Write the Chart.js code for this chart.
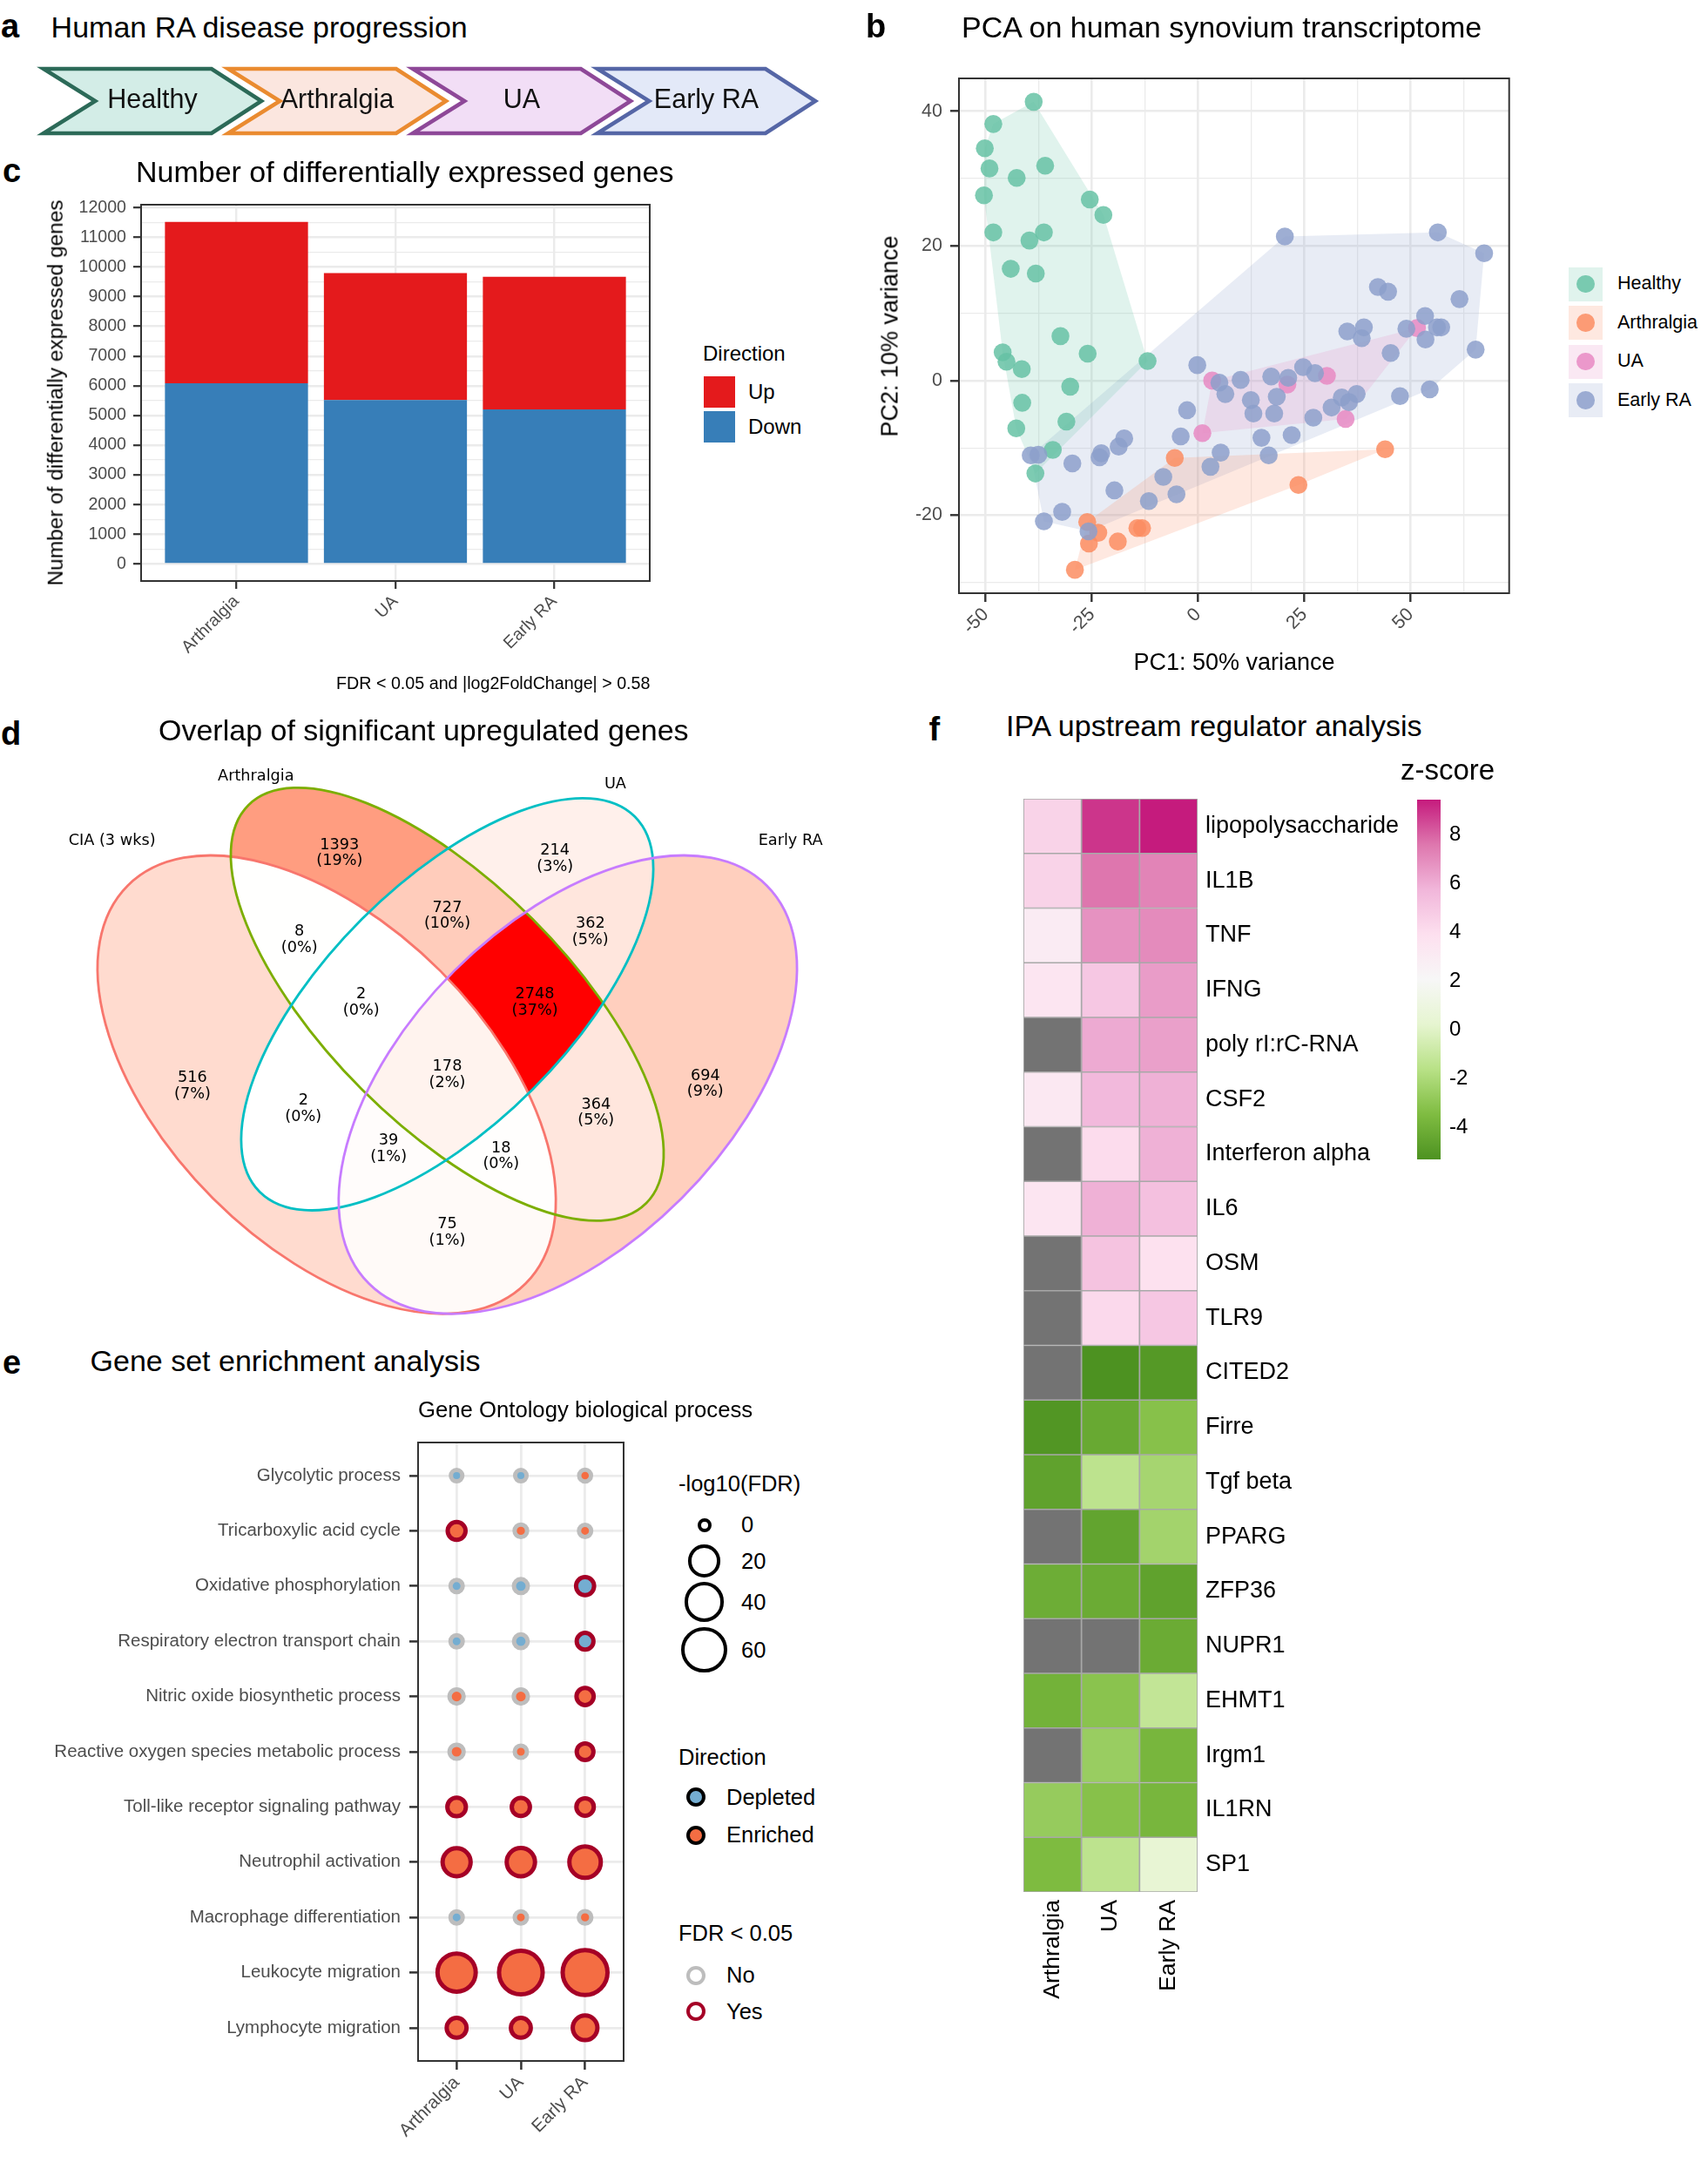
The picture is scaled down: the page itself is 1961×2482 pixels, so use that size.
<!DOCTYPE html>
<html>
<head>
<meta charset="utf-8">
<script src="https://cdn.jsdelivr.net/npm/chart.js@4.4.1/dist/chart.umd.min.js"></script>
<style>
  html, body { margin: 0; padding: 0; background: #fff; }
  #page { position: relative; width: 1961px; height: 2482px; overflow: hidden; background: #fff; }
</style>
</head>
<body>
<div id="page"></div>
<script>
// ---------------- data ----------------

// a: disease stages
const stages = ['Healthy', 'Arthralgia', 'UA', 'Early RA'];

// b: PCA scores per group
const pcaGroups = ['Healthy', 'Arthralgia', 'UA', 'Early RA'];
const healthyPC1 = [-38.7, -48.2, -50.2, -49.1, -42.7, -36.0, -50.4, -25.5, -22.3, -48.2, -39.7, -36.3, -44.1, -38.2, -32.4, -26.0, -46.0, -45.1, -41.5, -11.9, -30.1, -41.4, -31.0, -42.8, -34.2, -38.3];
const healthyPC2 = [41.4, 38.1, 34.5, 31.5, 30.1, 31.9, 27.5, 26.9, 24.6, 22.0, 20.8, 22.0, 16.6, 15.9, 6.6, 4.0, 4.2, 2.8, 1.7, 2.9, -0.9, -3.3, -6.1, -7.1, -10.3, -13.8];
const arthralgiaPC1 = [-5.5, 44.0, 23.6, -26.1, -23.5, -25.7, -18.9, -14.3, -13.2, -29.0];
const arthralgiaPC2 = [-11.5, -10.2, -15.5, -21.0, -22.6, -24.2, -23.9, -21.9, -21.9, -28.1];
const uaPC1 = [3.3, 21.0, 30.3, 51.5, 1.0, 34.7];
const uaPC2 = [0.0, -0.6, 0.7, 7.8, -7.8, -5.7];
const earlyRaPC1 = [-0.2, 10.0, 5.0, 6.4, -2.6, -4.1, 5.3, 2.9, -8.2, -5.1, -11.6, -19.7, -18.7, -17.4, -22.8, -23.2, -29.6, -39.4, -37.6, -32.0, -36.3, -25.8, 12.4, 13.0, 17.2, 21.2, 18.5, 17.9, 14.9, 16.6, 22.0, 24.7, 27.5, 27.1, 31.4, 33.8, 35.5, 37.3, 35.1, 39.0, 38.5, 42.3, 44.7, 45.3, 47.5, 49.0, 53.4, 53.5, 54.5, 56.2, 57.2, 56.4, 61.5, 67.3, 65.3, 20.4];
const earlyRaPC2 = [2.3, 0.1, -0.3, -2.0, -4.4, -8.3, -10.7, -12.8, -14.3, -16.9, -17.9, -16.3, -9.8, -8.6, -10.8, -11.4, -12.3, -11.1, -11.0, -19.5, -20.9, -22.4, -2.9, -4.9, 0.6, 0.4, -2.4, -4.9, -8.5, -11.1, -8.1, 2.0, 1.1, -5.5, -4.0, -2.5, -3.2, -2.0, 7.3, 7.9, 6.3, 13.9, 13.2, 4.1, -2.3, 7.7, 9.6, 6.1, -1.3, 7.9, 7.9, 22.0, 12.1, 18.9, 4.6, 21.4];
const pcaXTicks = [-50, -37.5, -25, -12.5, 0, 12.5, 25, 37.5, 50, 62.5];
const pcaXMajor = [-50, -25, 0, 25, 50];
const pcaYTicks = [-30, -20, -10, 0, 10, 20, 30, 40];
const pcaYMajor = [-20, 0, 20, 40];

// c: differentially expressed genes
const degGroups = ['Arthralgia', 'UA', 'Early RA'];
const degDown = [6080, 5520, 5200];
const degUp = [5440, 4270, 4470];
const degYTicks = [0, 500, 1000, 1500, 2000, 2500, 3000, 3500, 4000, 4500, 5000, 5500, 6000, 6500, 7000, 7500, 8000, 8500, 9000, 9500, 10000, 10500, 11000, 11500, 12000];

// d: Venn of upregulated genes
const vennSets = ['CIA (3 wks)', 'Arthralgia', 'UA', 'Early RA'];
const vennRegions = ['A', 'B', 'C', 'D', 'AB', 'AC', 'AD', 'BC', 'BD', 'CD', 'ABC', 'ABD', 'ACD', 'BCD', 'ABCD'];
const vennCounts = [516, 1393, 214, 694, 8, 2, 75, 727, 364, 362, 2, 18, 39, 2748, 178];

// e: GO enrichment, -log10(FDR)
const goTerms = ['Glycolytic process', 'Tricarboxylic acid cycle', 'Oxidative phosphorylation', 'Respiratory electron transport chain', 'Nitric oxide biosynthetic process', 'Reactive oxygen species metabolic process', 'Toll-like receptor signaling pathway', 'Neutrophil activation', 'Macrophage differentiation', 'Leukocyte migration', 'Lymphocyte migration'];
const goGroups = ['Arthralgia', 'UA', 'Early RA'];
const goArthralgia = [0.2, 4.0, 0.4, 0.4, 1.2, 1.2, 4.7, 20.0, 0.4, 48.0, 6.2];
const goUA = [0.2, 0.5, 1.1, 1.0, 1.2, 0.4, 4.3, 20.5, 0.4, 68.0, 6.2];
const goEarlyRA = [0.3, 0.4, 4.2, 3.0, 3.4, 3.0, 3.6, 28.0, 0.5, 73.0, 13.3];
const goDirArthralgia = ['Depleted', 'Enriched', 'Depleted', 'Depleted', 'Enriched', 'Enriched', 'Enriched', 'Enriched', 'Depleted', 'Enriched', 'Enriched'];
const goDirUA = ['Depleted', 'Enriched', 'Depleted', 'Depleted', 'Enriched', 'Enriched', 'Enriched', 'Enriched', 'Enriched', 'Enriched', 'Enriched'];
const goDirEarlyRA = ['Enriched', 'Enriched', 'Depleted', 'Depleted', 'Enriched', 'Enriched', 'Enriched', 'Enriched', 'Enriched', 'Enriched', 'Enriched'];
const goSizeBreaks = [0, 20, 40, 60];

// f: IPA upstream regulators, z-scores (null = not available)
const ipaRegulators = ['lipopolysaccharide', 'IL1B', 'TNF', 'IFNG', 'poly rI:rC-RNA', 'CSF2', 'Interferon alpha', 'IL6', 'OSM', 'TLR9', 'CITED2', 'Firre', 'Tgf beta', 'PPARG', 'ZFP36', 'NUPR1', 'EHMT1', 'Irgm1', 'IL1RN', 'SP1'];
const ipaGroups = ['Arthralgia', 'UA', 'Early RA'];
const zArthralgia = [4.5, 4.5, 3.0, 3.5, null, 3.3, null, 3.5, null, null, null, -5.1, -4.6, null, -4.1, null, -3.9, null, -2.7, -3.5];
const zUA = [8.9, 7.6, 6.8, 5.0, 6.1, 5.6, 4.1, 5.9, 5.2, 4.2, -5.29, -4.3, -1.4, -4.5, -4.2, null, -3.1, -2.6, -3.2, -1.4];
const zEarlyRA = [9.43, 7.2, 7.0, 6.5, 6.4, 5.9, 5.9, 5.3, 3.8, 5.0, -5.0, -3.2, -2.2, -2.3, -4.6, -4.2, -1.2, -3.7, -3.7, 0.4];
const zTicks = [-4, -2, 0, 2, 4, 6, 8];

// ---------------- helpers ----------------
const sans = "'Liberation Sans', Arial, Helvetica, sans-serif";
const vennFont = "'DejaVu Sans', sans-serif";
Chart.defaults.font.family = sans;
Chart.defaults.color = '#4d4d4d';

const page = document.getElementById('page');

function canvasAt(left, top, width, height) {
    const c = document.createElement('canvas');
    c.width = Math.round(width);
    c.height = Math.round(height);
    Object.assign(c.style, { position: 'absolute', left: left + 'px', top: top + 'px' });
    page.appendChild(c);
    return c;
}

// canvas placed so the plot area lands on [l, t, r, b]
function frame(area, axes, pad) {
    const left = area[0] - pad.left - (axes.left || 0);
    const top = area[1] - pad.top - (axes.top || 0);
    const right = area[2] + pad.right + (axes.right || 0);
    const bottom = area[3] + pad.bottom + (axes.bottom || 0);
    return canvasAt(left, top, right - left, bottom - top);
}

function baseOptions(pad) {
    return {
        responsive: false, animation: false, devicePixelRatio: 1, events: [],
        layout: { padding: pad },
        plugins: { legend: { display: false }, tooltip: { enabled: false } }
    };
}

const labels = [];
function text(str, x, y, size, o = {}) {
    const d = document.createElement('div');
    d.textContent = str;
    Object.assign(d.style, {
        position: 'absolute', whiteSpace: 'nowrap', lineHeight: '1',
        fontFamily: o.family || sans, fontSize: size + 'px',
        fontWeight: o.bold ? 'bold' : 'normal', color: o.color || '#000'
    });
    if (o.rotate) {
        d.style.left = x + 'px';
        d.style.top = y + 'px';
        d.style.transform = 'translate(-50%, -50%) rotate(-90deg)';
    } else {
        d.style.left = x + 'px';
        d.style.top = (y - 0.8465 * size) + 'px';
        if (o.align === 'center') d.style.transform = 'translateX(-50%)';
        if (o.align === 'right') d.style.transform = 'translateX(-100%)';
    }
    labels.push(d);
}

function swatch(left, top, w, h, css) {
    const d = document.createElement('div');
    Object.assign(d.style, { position: 'absolute', left: left + 'px', top: top + 'px', width: w + 'px', height: h + 'px', boxSizing: 'border-box' }, css);
    labels.push(d);
}

const panelBox = {
    id: 'panelBox',
    afterDatasetsDraw(chart, args, opts) {
        if (!opts || !opts.width) return;
        const { ctx, chartArea: a } = chart;
        ctx.save();
        ctx.strokeStyle = opts.color;
        ctx.lineWidth = opts.width;
        ctx.strokeRect(a.left, a.top, a.right - a.left, a.bottom - a.top);
        ctx.restore();
    }
};

function fixedTicks(list) {
    return (scale) => { scale.ticks = list.map(v => ({ value: v })); };
}

// ---------------- panel a: stage chevrons ----------------
const chevronFill = ['#d3ede7', '#fbe6df', '#f2def6', '#e3e9f8'];
const chevronLine = ['#2c6a58', '#ea8b30', '#8e4898', '#5566a6'];

const chevronPlugin = {
    id: 'chevrons',
    afterDatasetsDraw(chart) {
        const { ctx } = chart;
        const xs = chart.scales.x, ys = chart.scales.y;
        const step = xs.getPixelForValue(1) - xs.getPixelForValue(0);
        const top = ys.getPixelForValue(1), bot = ys.getPixelForValue(0), mid = (top + bot) / 2;
        ctx.save();
        ctx.lineJoin = 'miter';
        ctx.lineWidth = 4.5;
        stages.forEach((name, i) => {
            const c = xs.getPixelForValue(i);
            const left = c - 0.59 * step, tip = c + 0.59 * step;
            const shoulder = tip - 0.27 * step, notch = left + 0.28 * step;
            ctx.beginPath();
            ctx.moveTo(left, top);
            ctx.lineTo(shoulder, top);
            ctx.lineTo(tip, mid);
            ctx.lineTo(shoulder, bot);
            ctx.lineTo(left, bot);
            ctx.lineTo(notch, mid);
            ctx.closePath();
            ctx.fillStyle = chevronFill[i];
            ctx.fill();
            ctx.strokeStyle = chevronLine[i];
            ctx.stroke();
            ctx.fillStyle = '#111';
            ctx.font = '30.5px ' + sans;
            ctx.textAlign = 'center';
            ctx.textBaseline = 'alphabetic';
            ctx.fillText(name, c, mid + 8);
        });
        ctx.restore();
    }
};

(function () {
    const pad = { left: 29, right: 29, top: 10, bottom: 10 };
    const cv = frame([69, 79, 917, 153], {}, pad);
    new Chart(cv, {
        type: 'bar',
        data: { labels: stages, datasets: [{ data: stages.map(() => null) }] },
        options: Object.assign(baseOptions(pad), {
            scales: { x: { display: false }, y: { display: false, min: 0, max: 1 } }
        }),
        plugins: [chevronPlugin]
    });
})();

// ---------------- panel b: PCA ----------------
const pcaRGB = ['102,194,165', '252,141,98', '231,138,195', '141,160,203'];

function convexHull(points) {
    const p = points.slice().sort((a, b) => a.x - b.x || a.y - b.y);
    const cross = (o, a, b) => (a.x - o.x) * (b.y - o.y) - (a.y - o.y) * (b.x - o.x);
    const lower = [], upper = [];
    for (const q of p) {
        while (lower.length >= 2 && cross(lower[lower.length - 2], lower[lower.length - 1], q) <= 0) lower.pop();
        lower.push(q);
    }
    for (const q of p.slice().reverse()) {
        while (upper.length >= 2 && cross(upper[upper.length - 2], upper[upper.length - 1], q) <= 0) upper.pop();
        upper.push(q);
    }
    lower.pop();
    upper.pop();
    return lower.concat(upper);
}

(function () {
    const pc1 = [healthyPC1, arthralgiaPC1, uaPC1, earlyRaPC1];
    const pc2 = [healthyPC2, arthralgiaPC2, uaPC2, earlyRaPC2];
    const pts = pc1.map((xs, g) => xs.map((x, i) => ({ x: x, y: pc2[g][i] })));
    const allX = [].concat(...pc1), allY = [].concat(...pc2);
    const xr = [Math.min(...allX), Math.max(...allX)], yr = [Math.min(...allY), Math.max(...allY)];
    const xe = (xr[1] - xr[0]) * 0.05, ye = (yr[1] - yr[0]) * 0.05;

    const hullSets = pts.map((p, g) => {
        const h = convexHull(p);
        return {
            type: 'line', data: h.concat([h[0]]), fill: 'shape',
            backgroundColor: `rgba(${pcaRGB[g]},0.2)`, borderColor: 'rgba(0,0,0,0)', borderWidth: 0,
            pointRadius: 0, tension: 0, order: 20 + g
        };
    });
    const pointSets = pts.map((p, g) => ({
        type: 'scatter', data: p, backgroundColor: `rgba(${pcaRGB[g]},0.85)`,
        borderWidth: 0, pointRadius: 10.3, order: 10 - g
    }));

    const pad = { left: 10, right: 10, top: 40, bottom: 8 };
    const cv = frame([1101, 90, 1733, 681], { left: 80, bottom: 65 }, pad);
    const isX = c => c.tick && pcaXMajor.includes(c.tick.value);
    const isY = c => c.tick && pcaYMajor.includes(c.tick.value);
    new Chart(cv, {
        type: 'scatter',
        data: { datasets: hullSets.concat(pointSets) },
        options: Object.assign(baseOptions(pad), {
            scales: {
                x: {
                    type: 'linear', min: xr[0] - xe, max: xr[1] + xe,
                    afterBuildTicks: fixedTicks(pcaXTicks),
                    afterFit: s => { s.height = 65; },
                    ticks: { autoSkip: false, minRotation: 45, maxRotation: 45, padding: 2, font: { size: 21.5 }, color: '#4d4d4d',
                        callback: v => pcaXMajor.includes(v) ? String(v) : '' },
                    grid: { color: '#ebebeb', lineWidth: c => isX(c) ? 2.6 : 1.3, tickColor: c => isX(c) ? '#333' : 'rgba(0,0,0,0)', tickLength: 10, tickWidth: 2.4 },
                    border: { display: false }
                },
                y: {
                    type: 'linear', min: yr[0] - ye, max: yr[1] + ye,
                    afterBuildTicks: fixedTicks(pcaYTicks),
                    afterFit: s => { s.width = 80; },
                    ticks: { autoSkip: false, padding: 9, font: { size: 21.5 }, color: '#4d4d4d',
                        callback: v => pcaYMajor.includes(v) ? String(v) : '' },
                    grid: { color: '#ebebeb', lineWidth: c => isY(c) ? 2.6 : 1.3, tickColor: c => isY(c) ? '#333' : 'rgba(0,0,0,0)', tickLength: 10, tickWidth: 2.4 },
                    border: { display: false }
                }
            },
            plugins: { legend: { display: false }, tooltip: { enabled: false }, panelBox: { color: '#333', width: 2 } }
        }),
        plugins: [panelBox]
    });

    pcaGroups.forEach((g, i) => {
        const top = 306.5 + i * 44.5;
        swatch(1801, top, 39, 39, { background: `rgba(${pcaRGB[i]},0.2)` });
        swatch(1801 + 19.5 - 10.3, top + 19.5 - 10.3, 20.6, 20.6, { borderRadius: '50%', background: `rgba(${pcaRGB[i]},0.85)` });
        text(g, 1857, top + 19.5 + 0.358 * 21.5, 21.5);
    });
    text('PC1: 50% variance', 1417, 769.5, 27, { align: 'center' });
    text('PC2: 10% variance', 1022, 386, 27, { rotate: true });
})();

// ---------------- panel c: stacked bars ----------------
(function () {
    const totals = degDown.map((d, i) => d + degUp[i]);
    const top = Math.max(...totals);
    const pad = { left: 10, right: 10, top: 40, bottom: 5 };
    const cv = frame([162, 235, 746, 667], { left: 80, bottom: 95 }, pad);
    const major = c => c.tick && c.tick.value % 1000 === 0;
    new Chart(cv, {
        type: 'bar',
        data: {
            datasets: [
                { label: 'Down', data: degGroups.map((g, i) => ({ x: i + 1, y: degDown[i] })), backgroundColor: '#377eb8' },
                { label: 'Up', data: degGroups.map((g, i) => ({ x: i + 1, y: degUp[i] })), backgroundColor: '#e41a1c' }
            ]
        },
        options: Object.assign(baseOptions(pad), {
            barPercentage: 0.9, categoryPercentage: 1,
            scales: {
                x: {
                    type: 'linear', min: 0.4, max: 3.6, stacked: true, offset: false,
                    afterBuildTicks: fixedTicks([1, 2, 3]),
                    afterFit: s => { s.height = 95; },
                    ticks: { autoSkip: false, minRotation: 45, maxRotation: 45, padding: 3, font: { size: 19.6 }, color: '#4d4d4d',
                        callback: v => degGroups[v - 1] },
                    grid: { offset: false, color: '#ebebeb', lineWidth: 2.4, tickColor: '#333', tickLength: 9, tickWidth: 2.2 },
                    border: { display: false }
                },
                y: {
                    type: 'linear', min: -0.05 * top, max: top * 1.05, stacked: true,
                    afterBuildTicks: fixedTicks(degYTicks),
                    afterFit: s => { s.width = 80; },
                    ticks: { autoSkip: false, padding: 8, font: { size: 19.6 }, color: '#4d4d4d',
                        callback: v => v % 1000 === 0 ? String(v) : '' },
                    grid: { color: '#ebebeb', lineWidth: c => major(c) ? 2.4 : 1.2, tickColor: c => major(c) ? '#333' : 'rgba(0,0,0,0)', tickLength: 9, tickWidth: 2.2 },
                    border: { display: false }
                }
            },
            plugins: { legend: { display: false }, tooltip: { enabled: false }, panelBox: { color: '#333', width: 2 } }
        }),
        plugins: [panelBox]
    });

    text('Number of differentially expressed genes', 64, 451, 24.4, { rotate: true });
    text('Direction', 807, 414.5, 24);
    const keys = [['Up', '#e41a1c'], ['Down', '#377eb8']];
    keys.forEach(([name, col], i) => {
        const t = 432 + i * 40;
        swatch(808, t, 36, 36, { background: col });
        text(name, 859, t + 18 + 0.358 * 24, 24);
    });
    text('FDR < 0.05 and |log2FoldChange| > 0.58', 746.5, 792, 19.7, { align: 'right' });
})();

// ---------------- panel d: Venn ----------------
const vennCx = [0.35, 0.5, 0.5, 0.65];
const vennCy = [0.47, 0.57, 0.57, 0.47];
const vennA = [0.35, 0.35, 0.33, 0.35];
const vennB = [0.2, 0.15, 0.15, 0.2];
const vennRot = [135, 135, 45, 45];
const vennLine = ['#f8766d', '#7cae00', '#00bfc4', '#c77cff'];
const vennLabelU = [0.183, 0.366, 0.634, 0.821, 0.316, 0.321, 0.500, 0.500, 0.685, 0.678, 0.393, 0.567, 0.427, 0.609, 0.500];
const vennLabelV = [0.468, 0.758, 0.751, 0.471, 0.650, 0.440, 0.286, 0.680, 0.435, 0.660, 0.572, 0.381, 0.390, 0.572, 0.482];
const vennSetU = [0.083, 0.262, 0.709, 0.927];
const vennSetV = [0.768, 0.848, 0.839, 0.768];

function srgbToLin(c) { c /= 255; return c <= 0.04045 ? c / 12.92 : Math.pow((c + 0.055) / 1.055, 2.4); }
function linToSrgb(c) { c = c <= 0.0031308 ? 12.92 * c : 1.055 * Math.pow(c, 1 / 2.4) - 0.055; return Math.round(Math.max(0, Math.min(1, c)) * 255); }
function rgbToLab(rgb) {
    const [r, g, b] = rgb.map(srgbToLin);
    const x = (0.4124 * r + 0.3576 * g + 0.1805 * b) / 0.95047;
    const y = 0.2126 * r + 0.7152 * g + 0.0722 * b;
    const z = (0.0193 * r + 0.1192 * g + 0.9505 * b) / 1.08883;
    const f = t => t > 0.008856 ? Math.cbrt(t) : 7.787 * t + 16 / 116;
    return [116 * f(y) - 16, 500 * (f(x) - f(y)), 200 * (f(y) - f(z))];
}
function labToRgb([L, a, b]) {
    let y = (L + 16) / 116, x = a / 500 + y, z = y - b / 200;
    const f = t => t * t * t > 0.008856 ? t * t * t : (t - 16 / 116) / 7.787;
    x = 0.95047 * f(x); y = f(y); z = 1.08883 * f(z);
    return [
        linToSrgb(x * 3.2406 - y * 1.5372 - z * 0.4986),
        linToSrgb(-x * 0.9689 + y * 1.8758 + z * 0.0415),
        linToSrgb(x * 0.0557 - y * 0.2040 + z * 1.0570)
    ];
}
const labLow = rgbToLab([255, 255, 255]), labHigh = rgbToLab([255, 0, 0]);
function vennFill(count) {
    const lo = Math.min(...vennCounts), hi = Math.max(...vennCounts);
    const t = (count - lo) / (hi - lo);
    const c = labToRgb(labLow.map((v, i) => v + (labHigh[i] - v) * t));
    return `rgb(${c[0]},${c[1]},${c[2]})`;
}

const vennPlugin = {
    id: 'venn',
    afterDatasetsDraw(chart) {
        const { ctx } = chart;
        const xs = chart.scales.x, ys = chart.scales.y;
        const k = xs.getPixelForValue(1) - xs.getPixelForValue(0);
        const paths = vennCx.map((cx, i) => {
            const p = new Path2D();
            p.ellipse(xs.getPixelForValue(cx), ys.getPixelForValue(vennCy[i]), vennA[i] * k, vennB[i] * k, -vennRot[i] * Math.PI / 180, 0, 2 * Math.PI);
            return p;
        });
        const W = chart.width, H = chart.height;
        vennRegions.forEach((code, r) => {
            ctx.save();
            paths.forEach((p, i) => {
                if (code.includes('ABCD'[i])) {
                    ctx.clip(p);
                } else {
                    const q = new Path2D();
                    q.rect(0, 0, W, H);
                    q.addPath(p);
                    ctx.clip(q, 'evenodd');
                }
            });
            ctx.fillStyle = vennFill(vennCounts[r]);
            ctx.fillRect(0, 0, W, H);
            ctx.restore();
        });
        ctx.save();
        ctx.lineWidth = 2.8;
        paths.forEach((p, i) => { ctx.strokeStyle = vennLine[i]; ctx.stroke(p); });
        const total = vennCounts.reduce((s, v) => s + v, 0);
        ctx.fillStyle = '#000';
        ctx.font = '17.7px ' + vennFont;
        ctx.textAlign = 'center';
        ctx.textBaseline = 'middle';
        vennCounts.forEach((n, r) => {
            const x = xs.getPixelForValue(vennLabelU[r]), y = ys.getPixelForValue(vennLabelV[r]);
            ctx.fillText(String(n), x, y - 9.2);
            ctx.fillText('(' + Math.round(n / total * 100) + '%)', x, y + 9.2);
        });
        ctx.textBaseline = 'alphabetic';
        vennSets.forEach((s, i) => {
            ctx.fillText(s, xs.getPixelForValue(vennSetU[i]), ys.getPixelForValue(vennSetV[i]));
        });
        ctx.restore();
    }
};

(function () {
    const pad = { left: 20, right: 20, top: 10, bottom: 10 };
    const cv = frame([52, 793, 975, 1522], {}, pad);
    new Chart(cv, {
        type: 'scatter',
        data: { datasets: [{ data: [] }] },
        options: Object.assign(baseOptions(pad), {
            scales: {
                x: { type: 'linear', display: false, min: 0, max: 1 },
                y: { type: 'linear', display: false, min: 0.17, max: 0.96 }
            }
        }),
        plugins: [vennPlugin]
    });
})();

// ---------------- panel e: GO dot plot ----------------
const sigCut = -Math.log10(0.05);
const dotOuter = v => 16 + 4.74 * Math.sqrt(v);
const dotBorder = 5;

(function () {
    const vals = [goArthralgia, goUA, goEarlyRA];
    const dirs = [goDirArthralgia, goDirUA, goDirEarlyRA];
    const datasets = goGroups.map((g, k) => ({
        data: goTerms.map((t, i) => ({ x: k + 1, y: i + 1 })),
        pointRadius: vals[k].map(v => (dotOuter(v) - dotBorder) / 2),
        pointBackgroundColor: dirs[k].map(d => d === 'Enriched' ? '#f46d43' : '#74add1'),
        pointBorderColor: vals[k].map(v => v > sigCut ? '#a50026' : '#bdbdbd'),
        pointBorderWidth: dotBorder
    }));
    const pad = { left: 10, right: 40, top: 40, bottom: 5 };
    const cv = frame([480, 1656, 716, 2366], { left: 430, bottom: 105 }, pad);
    const grid = { color: '#ebebeb', lineWidth: 2.8, tickColor: '#333', tickLength: 10, tickWidth: 2.5 };
    new Chart(cv, {
        type: 'scatter',
        data: { datasets },
        options: Object.assign(baseOptions(pad), {
            scales: {
                x: {
                    type: 'linear', min: 0.4, max: 3.6,
                    afterBuildTicks: fixedTicks([1, 2, 3]),
                    afterFit: s => { s.height = 105; },
                    ticks: { autoSkip: false, minRotation: 45, maxRotation: 45, padding: 3, font: { size: 20.5 }, color: '#4d4d4d',
                        callback: v => goGroups[v - 1] },
                    grid, border: { display: false }
                },
                y: {
                    type: 'linear', min: 0.4, max: 11.6, reverse: true,
                    afterBuildTicks: fixedTicks(goTerms.map((t, i) => i + 1)),
                    afterFit: s => { s.width = 430; },
                    ticks: { autoSkip: false, padding: 10, font: { size: 20.5 }, color: '#4d4d4d',
                        callback: v => goTerms[v - 1] },
                    grid, border: { display: false }
                }
            },
            plugins: { legend: { display: false }, tooltip: { enabled: false }, panelBox: { color: '#333', width: 2 } }
        }),
        plugins: [panelBox]
    });

    text('Gene Ontology biological process', 480, 1628, 25.7);
    // size legend
    text('-log10(FDR)', 779, 1713, 25.5);
    const sizeY = [1750.7, 1792, 1839, 1894];
    goSizeBreaks.forEach((v, i) => {
        const d = dotOuter(v);
        swatch(808.5 - d / 2, sizeY[i] - d / 2, d, d, { borderRadius: '50%', border: '4.5px solid #000', background: '#fff' });
        text(String(v), 851, sizeY[i] + 0.358 * 25.5, 25.5);
    });
    // direction legend
    text('Direction', 779, 2026.7, 25.5);
    [['Depleted', '#74add1'], ['Enriched', '#f46d43']].forEach(([name, col], i) => {
        const cy = 2063.3 + i * 43.4;
        swatch(799 - 11, cy - 11, 22, 22, { borderRadius: '50%', border: '4.5px solid #000', background: col });
        text(name, 834, cy + 0.358 * 25.5, 25.5);
    });
    // significance legend
    text('FDR < 0.05', 779, 2229, 25.5);
    [['No', '#bdbdbd'], ['Yes', '#a50026']].forEach(([name, col], i) => {
        const cy = 2267.7 + i * 41.6;
        swatch(799 - 11, cy - 11, 22, 22, { borderRadius: '50%', border: '4.5px solid ' + col, background: '#fff' });
        text(name, 834, cy + 0.358 * 25.5, 25.5);
    });
})();

// ---------------- panel f: heatmap ----------------
const piyg = ['#4d9221', '#7fbc41', '#b8e186', '#e6f5d0', '#f7f7f7', '#fde0ef', '#f1b6da', '#de77ae', '#c51b7d'];
const zCols = [zArthralgia, zUA, zEarlyRA];
const zAll = [].concat(...zCols).filter(v => v !== null);
const zMin = Math.min(...zAll), zMax = Math.max(...zAll);

function hexRgb(h) { return [1, 3, 5].map(i => parseInt(h.slice(i, i + 2), 16)); }
function zColor(v) {
    if (v === null) return '#737373';
    const t = (v - zMin) / (zMax - zMin) * (piyg.length - 1);
    const i = Math.min(piyg.length - 2, Math.floor(t));
    const f = t - i;
    const a = hexRgb(piyg[i]), b = hexRgb(piyg[i + 1]);
    const c = a.map((x, j) => Math.round(x + (b[j] - x) * f));
    return `rgb(${c[0]},${c[1]},${c[2]})`;
}

(function () {
    const pad = { left: 10, right: 5, top: 40, bottom: 5 };
    const cv = frame([1175, 917, 1375, 2172], { right: 240, bottom: 135 }, pad);
    new Chart(cv, {
        type: 'bar',
        data: {
            labels: ipaRegulators,
            datasets: ipaGroups.map((g, k) => ({
                data: ipaRegulators.map(() => [k, k + 1]),
                backgroundColor: zCols[k].map(zColor),
                borderColor: '#a8a8a8', borderWidth: 1.2, borderSkipped: false,
                grouped: false, barPercentage: 1, categoryPercentage: 1
            }))
        },
        options: Object.assign(baseOptions(pad), {
            indexAxis: 'y',
            scales: {
                y: {
                    type: 'category', position: 'right',
                    afterFit: s => { s.width = 240; },
                    ticks: { autoSkip: false, padding: 9, font: { size: 27 }, color: '#000' },
                    grid: { display: false, drawTicks: false }, border: { display: false }
                },
                x: {
                    type: 'linear', min: 0, max: 3,
                    afterBuildTicks: fixedTicks([0.5, 1.5, 2.5]),
                    afterFit: s => { s.height = 135; },
                    ticks: { autoSkip: false, minRotation: 90, maxRotation: 90, padding: 9, font: { size: 26.6 }, color: '#000',
                        callback: v => ipaGroups[Math.floor(v)] },
                    grid: { display: false, drawTicks: false }, border: { display: false }
                }
            }
        })
    });
})();

// colour key
(function () {
    const pad = { left: 5, right: 5, top: 40, bottom: 40 };
    const cv = frame([1627, 918, 1654, 1331], { right: 55 }, pad);
    new Chart(cv, {
        type: 'bar',
        data: {
            labels: ['z'],
            datasets: [{
                data: [[zMin, zMax]], barPercentage: 1, categoryPercentage: 1, borderWidth: 0,
                backgroundColor: (c) => {
                    const a = c.chart.chartArea;
                    if (!a) return piyg[4];
                    const g = c.chart.ctx.createLinearGradient(0, a.bottom, 0, a.top);
                    piyg.forEach((col, i) => g.addColorStop(i / (piyg.length - 1), col));
                    return g;
                }
            }]
        },
        options: Object.assign(baseOptions(pad), {
            scales: {
                x: { display: false },
                y: {
                    type: 'linear', position: 'right', min: zMin, max: zMax,
                    afterBuildTicks: fixedTicks(zTicks),
                    afterFit: s => { s.width = 55; },
                    ticks: { autoSkip: false, padding: 10, font: { size: 24 }, color: '#000' },
                    grid: { display: false, drawTicks: false }, border: { display: false }
                }
            }
        })
    });
    text('z-score', 1608, 894.5, 33);
})();

// ---------------- titles & panel letters ----------------
text('a', 1, 42.7, 38, { bold: true });
text('Human RA disease progression', 58.6, 42.7, 34);
text('b', 994, 42.7, 38, { bold: true });
text('PCA on human synovium transcriptome', 1104, 42.7, 34);
text('c', 3, 208.8, 38, { bold: true });
text('Number of differentially expressed genes', 156, 208.8, 34);
text('d', 1, 855, 38, { bold: true });
text('Overlap of significant upregulated genes', 182, 849.6, 34);
text('e', 3, 1576.7, 38, { bold: true });
text('Gene set enrichment analysis', 103.6, 1573.3, 34);
text('f', 1066.5, 849.7, 38, { bold: true });
text('IPA upstream regulator analysis', 1155, 844.8, 34);

labels.forEach(d => page.appendChild(d));
</script>
</body>
</html>
